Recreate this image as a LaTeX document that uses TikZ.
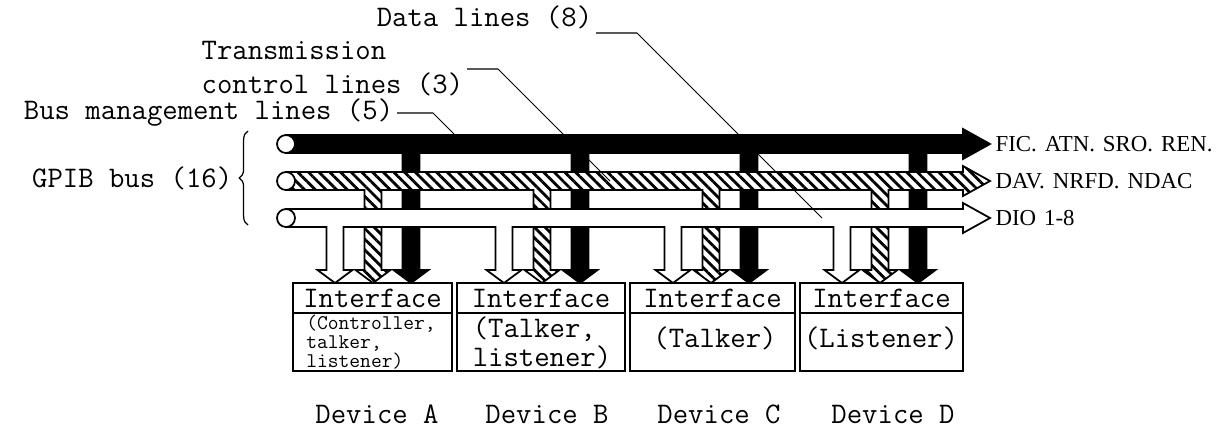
\documentclass[tikz,border=0pt]{standalone}
\usepackage{fontspec}
\newfontfamily\sigfont[WordSpace=1.4]{Liberation Serif}
\usetikzlibrary{positioning,calc,patterns.meta,decorations.pathreplacing}

\newcommand\bigtt{\fontsize{17}{16.5}\selectfont\ttfamily}
\newcommand\smalltt{\fontsize{11.9}{10.8}\selectfont\ttfamily}

\tikzset{
  lbl/.style={font=\bigtt, inner sep=2pt},
  sig/.style={font={\fontsize{13}{15}\selectfont\sigfont}, inner sep=1pt},
  blackbus/.style={draw, line width=1pt, fill=black},
  hatchbus/.style={draw, line width=1pt, preaction={fill=white},
    pattern={Lines[angle=-45,distance=4.3pt,line width=1.6pt]}},
  whitebus/.style={draw, line width=1pt, fill=white},
  busend/.style={draw, line width=1pt, fill=white},
  ifbox/.style={draw, line width=1.2pt, minimum height=1.76cm, inner sep=0pt},
  ifhead/.style={draw, line width=1.2pt, minimum height=0.6cm, inner sep=0pt, anchor=north, font=\bigtt},
  leader/.style={line width=0.6pt},
}

\begin{document}
\begin{tikzpicture}[x=0.02cm, y=-0.02cm]
  \useasboundingbox (0,0) rectangle (1221,430);

  % the three buses, each with its four drops
  \foreach \sty/\yc/\dx in {blackbus/144/76, hatchbus/181/38, whitebus/218/0} {
    \path[\sty] (286,\yc-9) -- (963,\yc-9) -- (963,\yc-15) -- (990,\yc) -- (963,\yc+15) -- (963,\yc+9)
      \foreach \k [evaluate=\k as \sx using 335+\dx+169*\k] in {3,2,1,0} {
        -- ({\sx+8.5},\yc+9) -- ({\sx+8.5},270) -- ({\sx+17.5},270) -- (\sx,283)
        -- ({\sx-17.5},270) -- ({\sx-8.5},270) -- ({\sx-8.5},\yc+9)
      } -- (286,\yc+9) -- cycle;
    \draw[busend] (286,\yc) circle[radius=0.18cm];
  }

  \coordinate (mgtip) at (990,144);
  \coordinate (hstip) at (990,181);
  \coordinate (diotip) at (990,218);
  \node (mglbl) [sig, right=2pt of mgtip] {FIC. ATN. SRO. REN.};
  \node (hslbl) [sig, right=2pt of hstip] {DAV. NRFD. NDAC};
  \node (diolbl) [sig, right=2pt of diotip] {DIO 1-8};

  \foreach \n/\cx/\bw/\lx in {A/372.5/3.18/377, B/541/3.36/547, C/712.5/3.30/719, D/881.5/3.26/893} {
    \node (if\n) [ifbox, minimum width=\bw cm] at (\cx,327) {};
    \node (hd\n) [ifhead, minimum width=\bw cm] at (if\n.north) {Interface};
    \node (dev\n) [lbl] at (\lx,414) {Device \n};
  }
  \node (bdA) [font=\smalltt, align=left, inner sep=0pt] at (371,342) {(Controller,\\talker,\\listener)};
  \node (bdB) [lbl, align=left] at (542,342.5) {(Talker,\\listener)};
  \node (bdC) [lbl] at (715,338) {(Talker)};
  \node (bdD) [lbl] at (881,338) {(Listener)};

  \coordinate (bracetop) at (248,131);
  \coordinate (bracebot) at (248,225);
  \draw[decorate, decoration={brace, amplitude=5pt}, line width=0.7pt] (bracebot) -- (bracetop);
  \node (gpiblbl) [lbl, anchor=east] at (236,178) {GPIB bus (16)};

  \node (datalbl) [lbl, anchor=south east] at (596,33) {Data lines (8)};
  \node (trlbl) [lbl, anchor=north east] at (467,69) {control lines (3)};
  \node (trtop) [lbl, above right=3pt and 0pt of trlbl.north west] {Transmission};
  \node (buslbl) [lbl, anchor=east] at (397,113) {Bus management lines (5)};

  \coordinate (dataend) at (822,218);
  \coordinate (trend) at (610,181);
  \coordinate (mgend) at (454,134);
  \draw[leader] (datalbl.south east) -- ++(41,0) -- (dataend);
  \draw[leader] (trlbl.north east) -- ++(31,0) -- (trend);
  \draw[leader] (buslbl.east) -- ++(36,0) -- (mgend);
\end{tikzpicture}
\end{document}
